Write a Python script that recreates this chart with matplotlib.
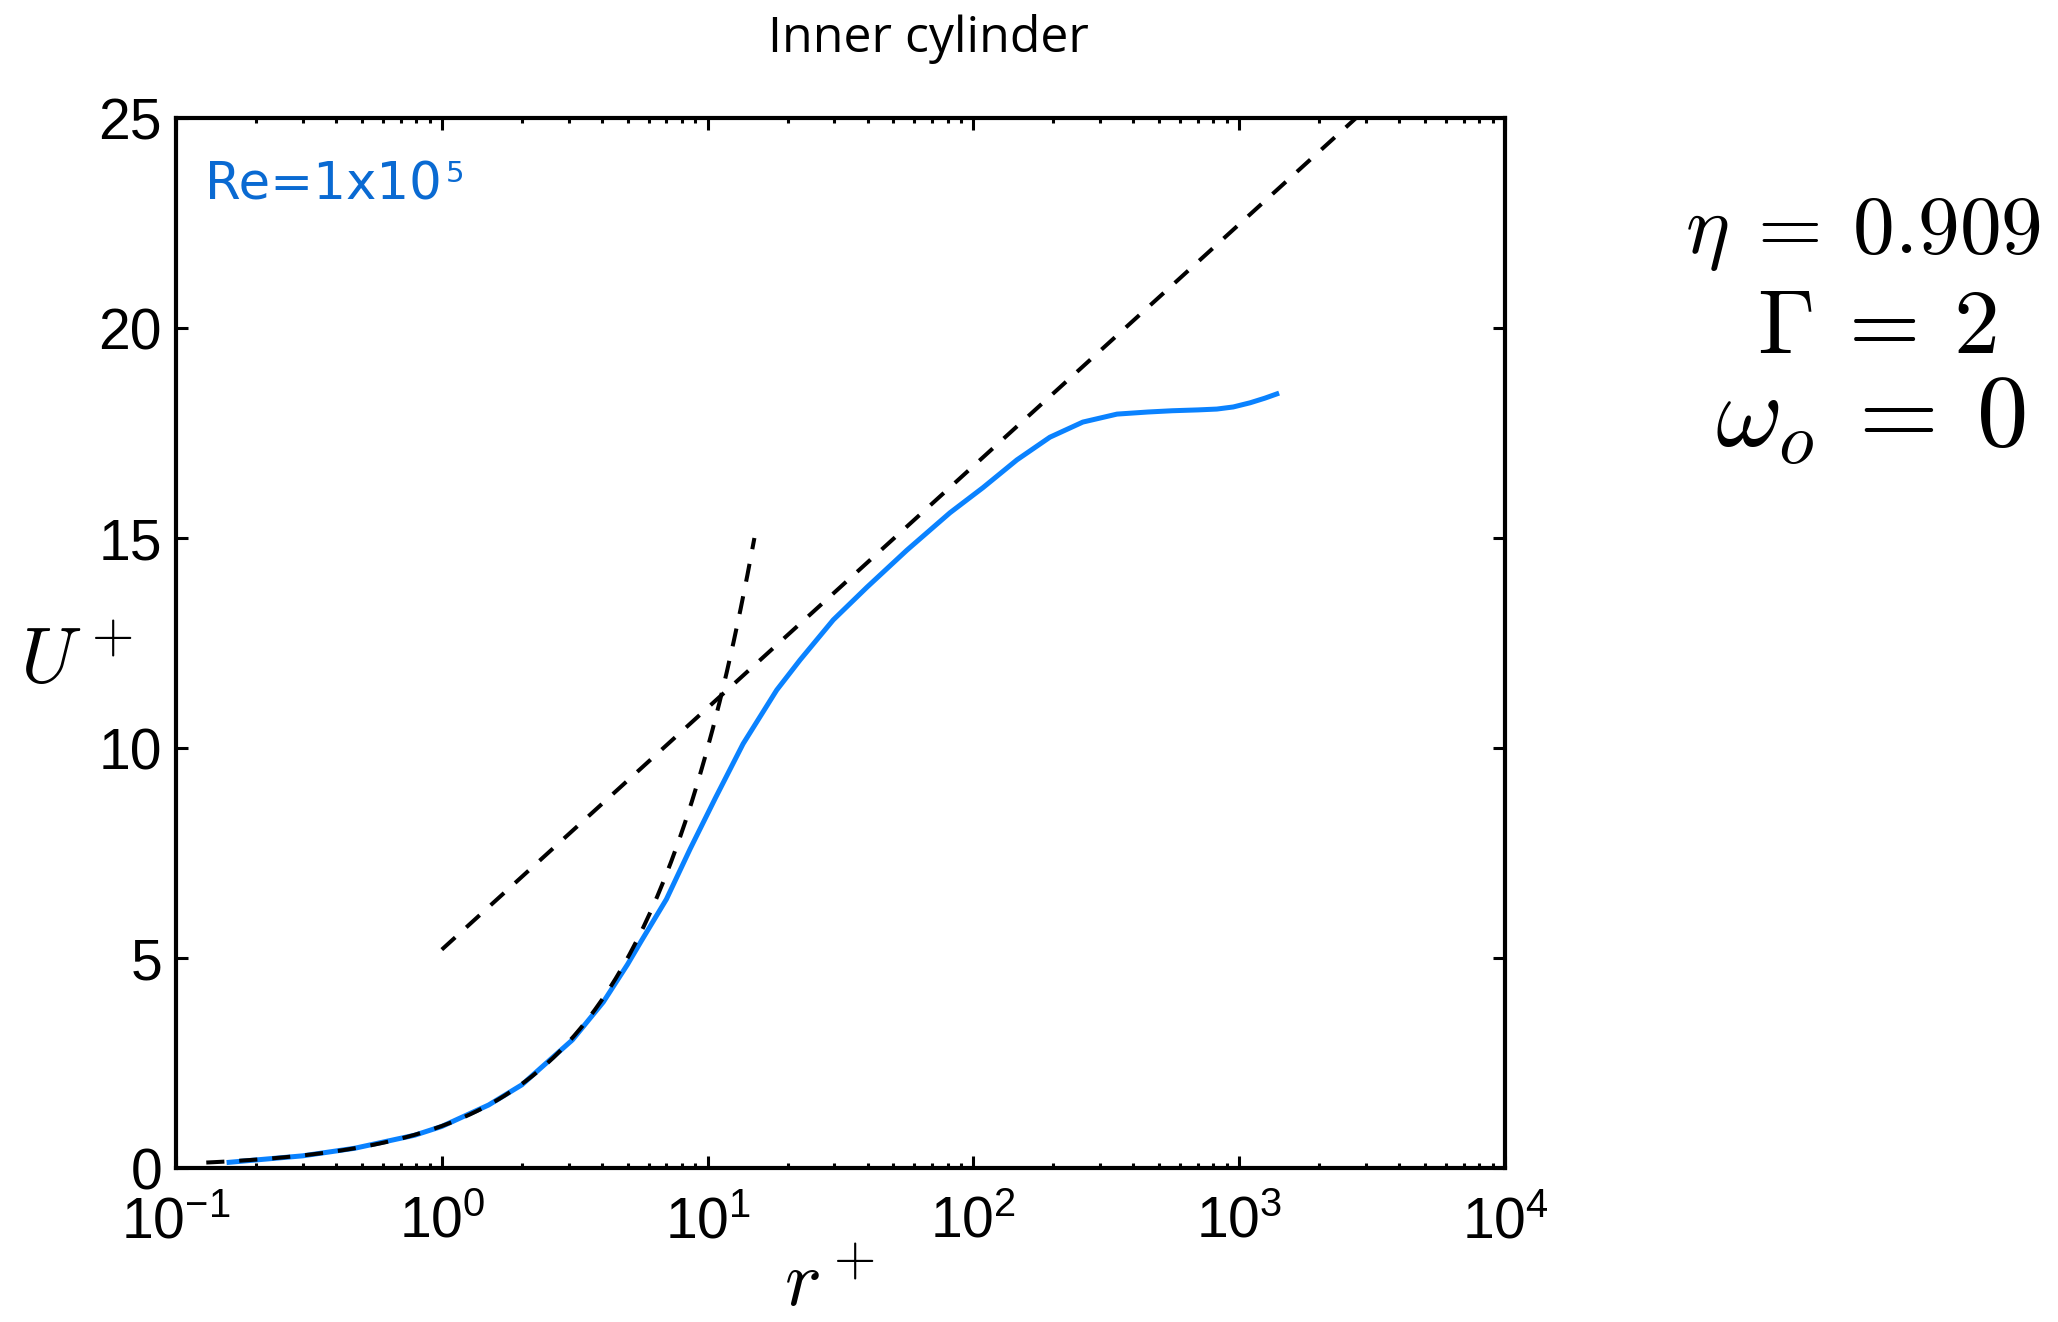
import numpy as np
import matplotlib
matplotlib.use("Agg")
import matplotlib.pyplot as plt
from matplotlib.ticker import LogLocator, NullLocator

# ---------------- data ----------------
r_plus = [0.155, 0.3, 0.47, 0.79, 1.0, 1.5, 2.0, 3.1, 4.05, 5.0, 5.6, 7.0, 8.6,
          10.7, 13.6, 18.2, 22.3, 29.7, 39.8, 56.2, 81.6, 108.7, 145.8,
          194.0, 258.0, 347.0, 454.0, 560.0, 700.0, 824.0, 950.0, 1100.0, 1250.0, 1413.0]
U_plus = [0.13, 0.29, 0.47, 0.78, 0.99, 1.5, 1.98, 3.05, 3.95, 4.85, 5.38, 6.4, 7.6,
          8.81, 10.1, 11.38, 12.1, 13.05, 13.83, 14.71, 15.6, 16.2, 16.86,
          17.4, 17.76, 17.95, 18.0, 18.03, 18.05, 18.07, 18.12, 18.22, 18.33, 18.45]

# reference laws
visc_range = (0.13, 15.0)      # U+ = r+
KAPPA, B = 0.4, 5.2            # U+ = (1/kappa) ln r+ + B
log_range = (1.0, 1.0e4)

y_ticks = [0, 5, 10, 15, 20, 25]
series_label = "Re=1x10"
series_exp = "5"
title = "Inner cylinder"
params = [r"$\eta\:=\:0.909$", r"$\Gamma\:=\:2$", r"$\omega_o\:=\:0$"]

BLUE = "#0A82FF"
TEXT_BLUE = "#0A6AD2"

# ---------------- figure ----------------
plt.rcParams["font.family"] = ["Liberation Sans", "DejaVu Sans"]
plt.rcParams["mathtext.fontset"] = "custom"
plt.rcParams["mathtext.rm"] = "Liberation Sans"
plt.rcParams["mathtext.it"] = "Liberation Sans:italic"
plt.rcParams["mathtext.bf"] = "Liberation Sans:bold"

W, H = 2058, 1322
fig = plt.figure(figsize=(W / 100, H / 100), dpi=100)
L, R, T, Bt = 176, 1505, 118, 1168
ax = fig.add_axes([L / W, 1 - Bt / H, (R - L) / W, (Bt - T) / H])

ax.plot(r_plus, U_plus, color=BLUE, lw=3.6, solid_capstyle="butt",
        solid_joinstyle="round", zorder=2)

rv = np.logspace(np.log10(visc_range[0]), np.log10(visc_range[1]), 80)
ax.plot(rv, rv, color="black", lw=2.9, ls=(0, (4.5, 3.7)), zorder=3)
rl = np.logspace(np.log10(log_range[0]), np.log10(log_range[1]), 80)
ax.plot(rl, np.log(rl) / KAPPA + B, color="black", lw=2.9, ls=(0, (4.5, 3.7)), zorder=3)

ax.set_xscale("log")
ax.set_xlim(0.1, 1e4)
ax.set_ylim(0, 25)
ax.set_yticks(y_ticks)
ax.yaxis.set_minor_locator(NullLocator())
ax.xaxis.set_major_locator(LogLocator(base=10, numticks=10))
ax.xaxis.set_minor_locator(LogLocator(base=10, subs=np.arange(2, 10), numticks=20))

for s in ax.spines.values():
    s.set_linewidth(3.0)
ax.tick_params(which="both", direction="in", top=True, right=True, width=2.2)
ax.tick_params(which="major", length=8.6, labelsize=41)
ax.tick_params(which="minor", length=3.8)
ax.tick_params(axis="x", which="major", pad=20)
ax.tick_params(axis="y", which="major", pad=10)

ax.set_xlabel(r"$r^+$", fontsize=56, math_fontfamily="cm", ha="left", va="baseline")
ax.xaxis.set_label_coords((784 - L) / (R - L), (Bt - 1306) / (Bt - T))
ax.set_ylabel(r"$U^+$", fontsize=56, math_fontfamily="cm", rotation=0, ha="left", va="baseline")
ax.yaxis.set_label_coords((20 - L) / (R - L), (Bt - 683) / (Bt - T))

# series label
ax.text((205 - L) / (R - L), (Bt - 200) / (Bt - T), series_label, transform=ax.transAxes,
        fontsize=37, color=TEXT_BLUE, family="DejaVu Sans", ha="left", va="baseline")
ax.text((446 - L) / (R - L), (Bt - 182) / (Bt - T), series_exp, transform=ax.transAxes,
        fontsize=21, color=TEXT_BLUE, family="DejaVu Sans", ha="left", va="baseline")

# title
fig.text(928 / W, 1 - 52 / H, title, fontsize=36, family="Open Sans", ha="center", va="baseline")

# parameters
sizes = [60, 66, 74]
xs = [1863, 1877, 1870]
bases = [253, 353, 447]
for p, s, x, b in zip(params, sizes, xs, bases):
    fig.text(x / W, 1 - b / H, p, fontsize=s, math_fontfamily="cm", ha="center", va="baseline")

fig.savefig("out.png", dpi=100, facecolor="white")
